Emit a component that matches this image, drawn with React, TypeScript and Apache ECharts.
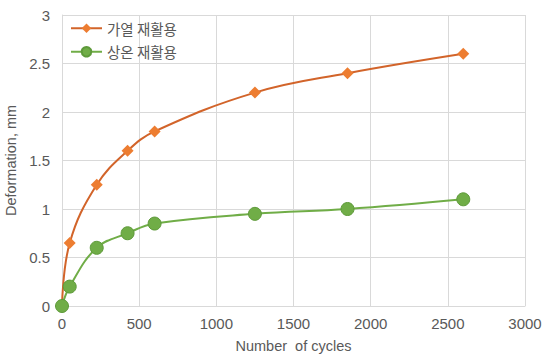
import React, { useEffect, useRef } from "react";
import * as echarts from "echarts";

const seriesNames = ["가열 재활용", "상온 재활용"];
const heatedCycles = [0, 50, 225, 425, 600, 1250, 1850, 2600];
const heatedDeformation = [0, 0.65, 1.25, 1.6, 1.8, 2.2, 2.4, 2.6];
const roomCycles = [0, 50, 225, 425, 600, 1250, 1850, 2600];
const roomDeformation = [0, 0.2, 0.6, 0.75, 0.85, 0.95, 1.0, 1.1];
const xAxisTitle = "Number  of cycles";
const yAxisTitle = "Deformation, mm";

export default function App() {
  const ref = useRef<HTMLDivElement>(null);
  useEffect(() => {
    if (!ref.current) return;
    document.body.style.margin = "0";
    const chart = echarts.init(ref.current, null, { renderer: "svg" });
    const axisFont = { color: "#595959", fontSize: 15, fontFamily: "Liberation Sans, Arial, sans-serif" };
    chart.setOption({
      animation: false,
      backgroundColor: "#ffffff",
      grid: { left: 62, right: 19, top: 15, bottom: 48, containLabel: false, outerBoundsMode: "none" },
      legend: {
        orient: "vertical",
        left: 65,
        top: 16,
        itemGap: 9,
        itemWidth: 31,
        itemHeight: 12,
        textStyle: { color: "#595959", fontSize: 14.5, fontFamily: "Noto Sans CJK KR, sans-serif" },
        data: seriesNames,
      },
      xAxis: {
        type: "value",
        min: 0,
        max: 3000,
        interval: 500,
        name: xAxisTitle,
        nameLocation: "middle",
        nameGap: 32,
        nameTextStyle: { ...axisFont, fontSize: 14.5 },
        axisLine: { show: true, lineStyle: { color: "#d9d9d9", width: 1 } },
        axisTick: { show: false },
        axisLabel: { ...axisFont, margin: 10, formatter: (v: number) => String(v) },
        splitLine: { show: true, lineStyle: { color: "#d9d9d9", width: 1 } },
      },
      yAxis: {
        type: "value",
        min: 0,
        max: 3,
        interval: 0.5,
        name: yAxisTitle,
        nameLocation: "middle",
        nameGap: 42,
        nameTextStyle: { ...axisFont, fontSize: 14.5 },
        axisLine: { show: true, lineStyle: { color: "#d9d9d9", width: 1 } },
        axisTick: { show: false },
        axisLabel: { ...axisFont, margin: 12 },
        splitLine: { show: true, lineStyle: { color: "#d9d9d9", width: 1 } },
      },
      series: [
        {
          name: seriesNames[0],
          type: "line",
          smooth: 0.4,
          data: heatedCycles.map((c, i) => [c, heatedDeformation[i]]),
          symbol: "diamond",
          symbolSize: 12,
          itemStyle: { color: "#ED7D31" },
          lineStyle: { color: "#D2642A", width: 2 },
          z: 2,
        },
        {
          name: seriesNames[1],
          type: "line",
          smooth: 0.4,
          data: roomCycles.map((c, i) => [c, roomDeformation[i]]),
          symbol: "circle",
          symbolSize: 13,
          itemStyle: { color: "#70AD47", borderColor: "#5E9A3A", borderWidth: 1 },
          lineStyle: { color: "#70AD47", width: 2 },
          z: 3,
        },
      ],
    });
    return () => chart.dispose();
  }, []);
  return <div ref={ref} style={{ width: 544, height: 354 }} />;
}
